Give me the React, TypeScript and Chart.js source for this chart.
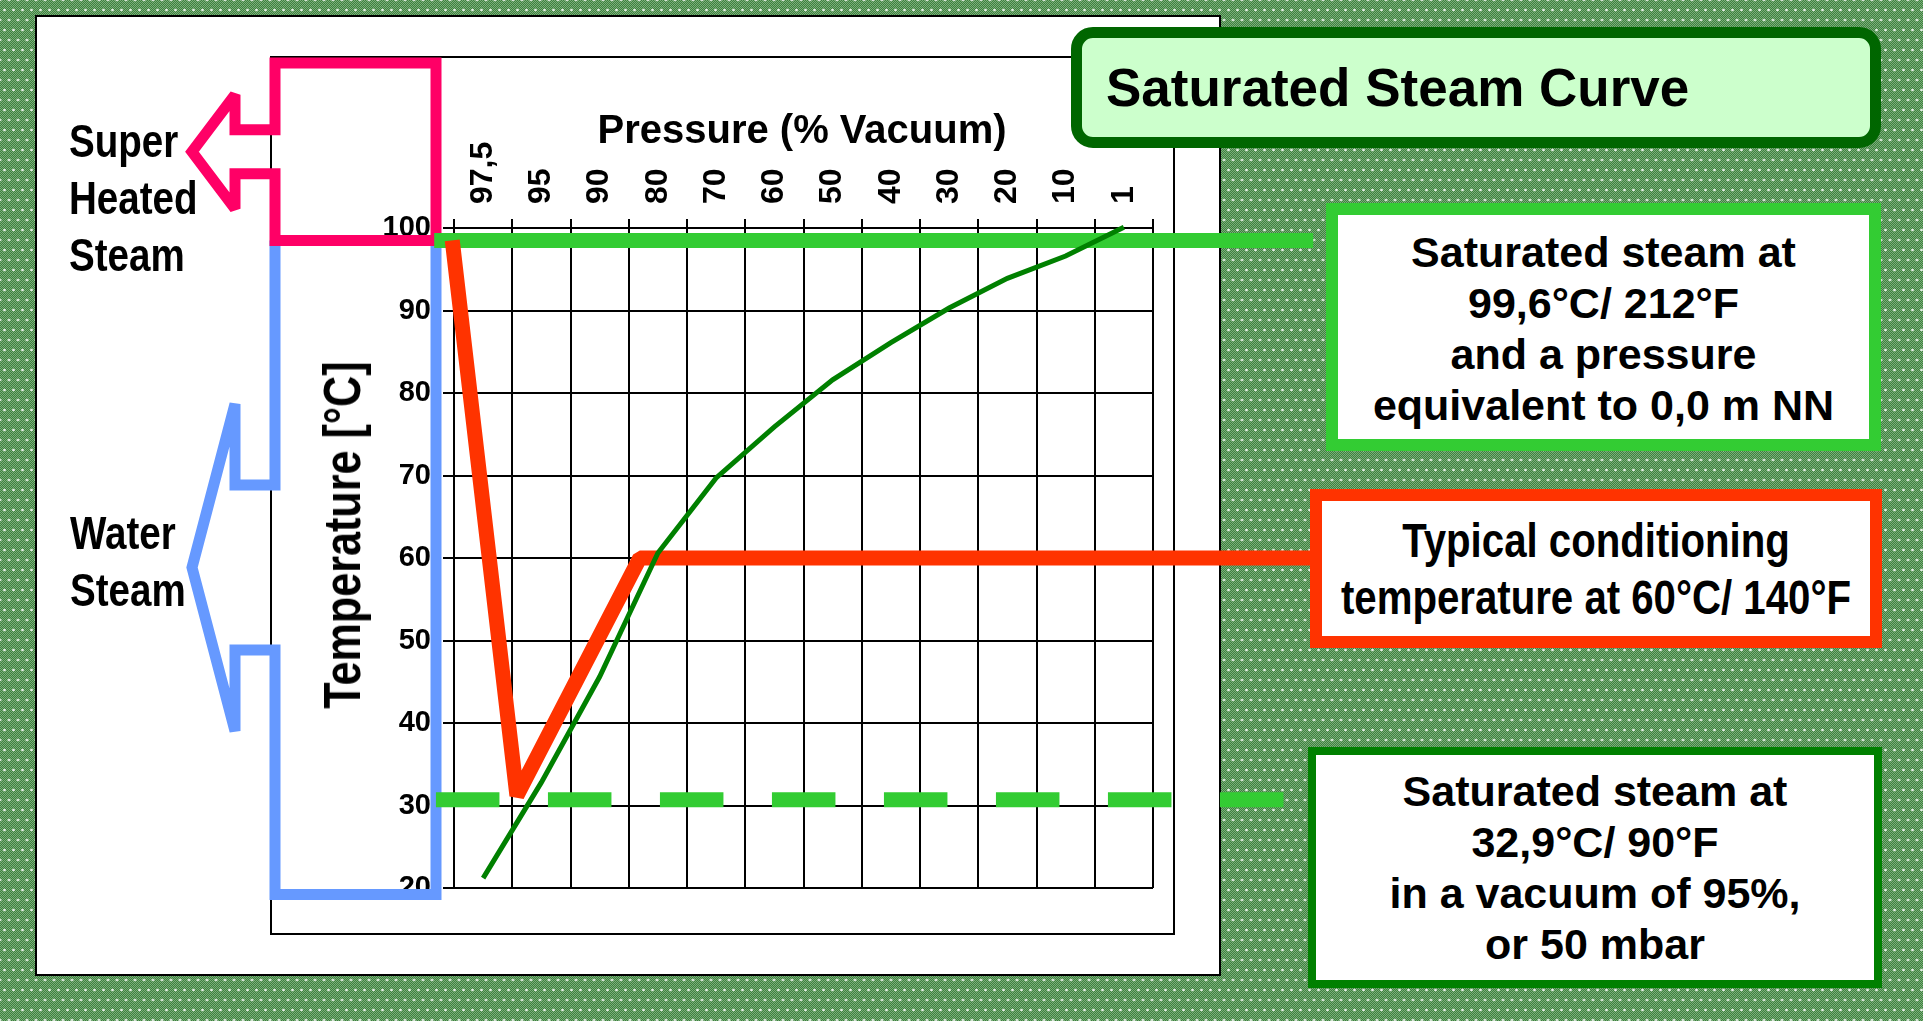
import React, { useEffect, useRef } from 'react';
import { Chart, registerables } from 'chart.js';

Chart.register(...registerables);

// ---------- data ----------
const pressureLabels = ['97,5', '95', '90', '80', '70', '60', '50', '40', '30', '20', '10', '1'];
const saturationTemps = [21.2, 32.8, 45.6, 60.6, 69.7, 75.9, 81.6, 86.1, 90.3, 93.9, 96.6, 100.1];
const temperatureTicks = [20, 30, 40, 50, 60, 70, 80, 90, 100];

// typical conditioning path (x in pressure-category index units)
const conditioningX = [-0.53, 0.58, 2.69, 14.2];
const conditioningY = [98.5, 31.2, 60, 60];

// saturated steam at 0,0 m NN
const atmosphericX = [-0.84, 14.25];
const atmosphericY = [98.5, 98.5];

// saturated steam in 95% vacuum
const vacuumX = [-0.81, 13.75];
const vacuumY = [30.7, 30.7];

// temperature ranges covered by the side brackets
const superheatedRange = [98.5, 120];
const waterSteamRange = [19.2, 98.5];

const WIDE = "'Liberation Sans', Arial, sans-serif";
const X_TICK_SIZE = 32;
const NARROW_SCALE = 0.82;

const toPoints = (xs: number[], ys: number[]) => xs.map((x, i) => ({ x, y: ys[i] }));

const bracketPlugin = {
  id: 'brackets',
  beforeDatasetsDraw(chart: any) {
    const { ctx, chartArea, scales } = chart;
    const ys = scales.y;
    const L = chartArea.left;
    const boxRight = L - 18;
    const boxLeft = L - 179;
    const armX = L - 219;
    const tipX = L - 262;
    ctx.save();
    ctx.lineWidth = 11;
    ctx.lineJoin = 'miter';
    ctx.miterLimit = 3;
    ctx.lineCap = 'butt';

    // water / steam bracket (blue)
    {
      const top = ys.getPixelForValue(waterSteamRange[1]);
      const bottom = ys.getPixelForValue(waterSteamRange[0]);
      const mid = (top + bottom) / 2;
      const arm = 82.5;
      const barb = 163.5;
      ctx.strokeStyle = '#6699ff';
      ctx.beginPath();
      ctx.moveTo(boxLeft, top);
      ctx.lineTo(boxLeft, mid - arm);
      ctx.lineTo(armX, mid - arm);
      ctx.lineTo(armX, mid - barb);
      ctx.lineTo(tipX, mid);
      ctx.lineTo(armX, mid + barb);
      ctx.lineTo(armX, mid + arm);
      ctx.lineTo(boxLeft, mid + arm);
      ctx.lineTo(boxLeft, bottom);
      ctx.lineTo(boxRight, bottom);
      ctx.lineTo(boxRight, top);
      ctx.stroke();
    }
    // super heated steam bracket (pink)
    {
      const top = ys.getPixelForValue(superheatedRange[1]);
      const bottom = ys.getPixelForValue(superheatedRange[0]);
      const mid = (top + bottom) / 2;
      const arm = 22;
      const barb = 57;
      ctx.strokeStyle = '#ff0066';
      ctx.beginPath();
      ctx.moveTo(boxRight, bottom);
      ctx.lineTo(boxRight, top);
      ctx.lineTo(boxLeft, top);
      ctx.lineTo(boxLeft, mid - arm);
      ctx.lineTo(armX, mid - arm);
      ctx.lineTo(armX, mid - barb);
      ctx.lineTo(tipX, mid);
      ctx.lineTo(armX, mid + barb);
      ctx.lineTo(armX, mid + arm);
      ctx.lineTo(boxLeft, mid + arm);
      ctx.lineTo(boxLeft, bottom);
      ctx.closePath();
      ctx.stroke();
    }
    ctx.restore();
  },
};

const lineBase = {
  xAxisID: 'xv',
  yAxisID: 'y',
  pointRadius: 0,
  pointHoverRadius: 0,
  tension: 0,
  fill: false,
  clip: false as any,
  borderCapStyle: 'butt' as const,
};

function SteamChart() {
  const ref = useRef<HTMLCanvasElement | null>(null);
  useEffect(() => {
    if (!ref.current) return;
    const chart = new Chart(ref.current, {
      type: 'line',
      data: {
        datasets: [
          {
            ...lineBase,
            label: 'Saturated steam curve',
            data: saturationTemps.map((t, i) => ({ x: i, y: t })),
            borderColor: '#008000',
            borderWidth: 5,
            order: 0,
          },
          {
            ...lineBase,
            label: 'Typical conditioning',
            data: toPoints(conditioningX, conditioningY),
            borderColor: '#ff3300',
            borderWidth: 15,
            borderJoinStyle: 'bevel',
            order: 1,
          },
          {
            ...lineBase,
            label: 'Saturated steam at 0,0 m NN',
            data: toPoints(atmosphericX, atmosphericY),
            borderColor: '#33cc33',
            borderWidth: 15,
            order: 2,
          },
          {
            ...lineBase,
            label: 'Saturated steam at 95% vacuum',
            data: toPoints(vacuumX, vacuumY),
            borderColor: '#33cc33',
            borderWidth: 15,
            borderDash: [63.5, 48.5],
            order: 3,
          },
        ],
      },
      options: {
        responsive: false,
        animation: false,
        events: [],
        layout: { padding: { left: 304, right: 770, top: 128, bottom: 133 } },
        plugins: { legend: { display: false }, tooltip: { enabled: false } },
        scales: {
          x: {
            type: 'category',
            position: 'top',
            labels: pressureLabels,
            offset: true,
            grid: { offset: true, color: '#000', lineWidth: 2, tickLength: 9, drawTicks: true },
            border: { color: '#000', width: 2 },
            ticks: {
              autoSkip: false,
              maxRotation: 90,
              minRotation: 90,
              padding: 15,
              labelOffset: X_TICK_SIZE * 1.2,
              color: '#000',
              font: { family: WIDE, size: X_TICK_SIZE, weight: 'bold' },
            },
            afterFit: (s: any) => {
              s.height = 100;
            },
          },
          xv: { type: 'linear', display: false, min: -0.5, max: 11.5 },
          y: {
            type: 'linear',
            position: 'left',
            min: temperatureTicks[0],
            max: temperatureTicks[temperatureTicks.length - 1],
            ticks: {
              stepSize: 10,
              padding: 12,
              color: '#000',
              font: { family: WIDE, size: 29, weight: 'bold' },
            },
            grid: { color: '#000', lineWidth: 2, tickLength: 11 },
            border: { color: '#000', width: 2 },
            afterFit: (s: any) => {
              s.width = 150;
            },
          },
        },
      } as any,
      plugins: [bracketPlugin],
    });
    return () => chart.destroy();
  }, []);
  return (
    <canvas
      ref={ref}
      width={1923}
      height={1021}
      style={{ position: 'absolute', left: 0, top: 0, width: 1923, height: 1021, zIndex: 3 }}
    />
  );
}

const abs = (s: React.CSSProperties): React.CSSProperties => ({ position: 'absolute', boxSizing: 'border-box', ...s });

const narrowCentered = (top: number, font: string): React.CSSProperties => ({
  position: 'absolute',
  left: '50%',
  top,
  transform: `translateX(-50%) scaleX(${NARROW_SCALE})`,
  transformOrigin: 'center top',
  whiteSpace: 'nowrap',
  textAlign: 'center',
  font,
});

export default function App() {
  return (
    <div
      style={{
        position: 'fixed',
        left: 0,
        top: 0,
        width: 1923,
        height: 1021,
        overflow: 'hidden',
        backgroundColor: '#5b985b',
        backgroundImage:
          'radial-gradient(circle, rgba(236,244,236,0.95) 0.9px, rgba(236,244,236,0) 1.7px), radial-gradient(circle, rgba(236,244,236,0.95) 0.9px, rgba(236,244,236,0) 1.7px), repeating-conic-gradient(#3f813f 0% 25%, #7aae7a 0% 50%)',
        backgroundSize: '9px 20px, 9px 20px, 2px 2px',
        backgroundPosition: '0 0, 4.5px 10px, 0 0',
        fontFamily: WIDE,
        color: '#000',
      }}
    >
      {/* white panel */}
      <div style={abs({ left: 35, top: 15, width: 1186, height: 961, background: '#fff', border: '2px solid #000', zIndex: 1 })} />
      {/* inner frame */}
      <div style={abs({ left: 270, top: 56, width: 905, height: 879, border: '2px solid #000', zIndex: 2 })} />

      <SteamChart />

      {/* axis titles */}
      <div
        style={abs({
          left: 802,
          top: 109,
          transform: 'translateX(-50%)',
          font: `bold 40px/40px ${WIDE}`,
          whiteSpace: 'nowrap',
          zIndex: 4,
        })}
      >
        Pressure (% Vacuum)
      </div>
      <div
        style={abs({
          left: 342,
          top: 535,
          transform: 'translate(-50%, -50%) rotate(-90deg) scaleX(0.83)',
          font: `bold 52px/52px ${WIDE}`,
          whiteSpace: 'nowrap',
          zIndex: 4,
        })}
      >
        Temperature [°C]
      </div>

      {/* bracket labels */}
      <div
        style={abs({
          left: 69,
          top: 112,
          font: `bold 47px/57px ${WIDE}`,
          transform: `scaleX(${NARROW_SCALE})`,
          transformOrigin: 'left top',
          whiteSpace: 'nowrap',
          zIndex: 4,
        })}
      >
        Super
        <br />
        Heated
        <br />
        Steam
      </div>
      <div
        style={abs({
          left: 70,
          top: 504,
          font: `bold 47px/57px ${WIDE}`,
          transform: `scaleX(${NARROW_SCALE})`,
          transformOrigin: 'left top',
          whiteSpace: 'nowrap',
          zIndex: 4,
        })}
      >
        Water
        <br />
        Steam
      </div>

      {/* title */}
      <div
        style={abs({
          left: 1071,
          top: 27,
          width: 810,
          height: 121,
          border: '11px solid #006600',
          borderRadius: 22,
          background: '#ccffcc',
          paddingLeft: 24,
          font: `bold 53px/99px ${WIDE}`,
          whiteSpace: 'nowrap',
          zIndex: 4,
        })}
      >
        Saturated Steam Curve
      </div>

      {/* annotation boxes */}
      <div
        style={abs({
          left: 1326,
          top: 203,
          width: 555,
          height: 248,
          border: '12px solid #33cc33',
          background: '#fff',
          paddingTop: 12,
          textAlign: 'center',
          font: `bold 43px/51px ${WIDE}`,
          whiteSpace: 'nowrap',
          zIndex: 4,
        })}
      >
        Saturated steam at
        <br />
        99,6°C/ 212°F
        <br />
        and a pressure
        <br />
        equivalent to 0,0 m NN
      </div>
      <div
        style={abs({
          left: 1310,
          top: 489,
          width: 572,
          height: 159,
          border: '12px solid #ff3300',
          background: '#fff',
          zIndex: 4,
        })}
      >
        <div style={narrowCentered(11, `bold 49px/57px ${WIDE}`)}>
          Typical conditioning
          <br />
          temperature at 60°C/ 140°F
        </div>
      </div>
      <div
        style={abs({
          left: 1308,
          top: 747,
          width: 574,
          height: 241,
          border: '8px solid #008000',
          background: '#fff',
          paddingTop: 11,
          textAlign: 'center',
          font: `bold 43px/51px ${WIDE}`,
          whiteSpace: 'nowrap',
          zIndex: 4,
        })}
      >
        Saturated steam at
        <br />
        32,9°C/ 90°F
        <br />
        in a vacuum of 95%,
        <br />
        or 50 mbar
      </div>
    </div>
  );
}
